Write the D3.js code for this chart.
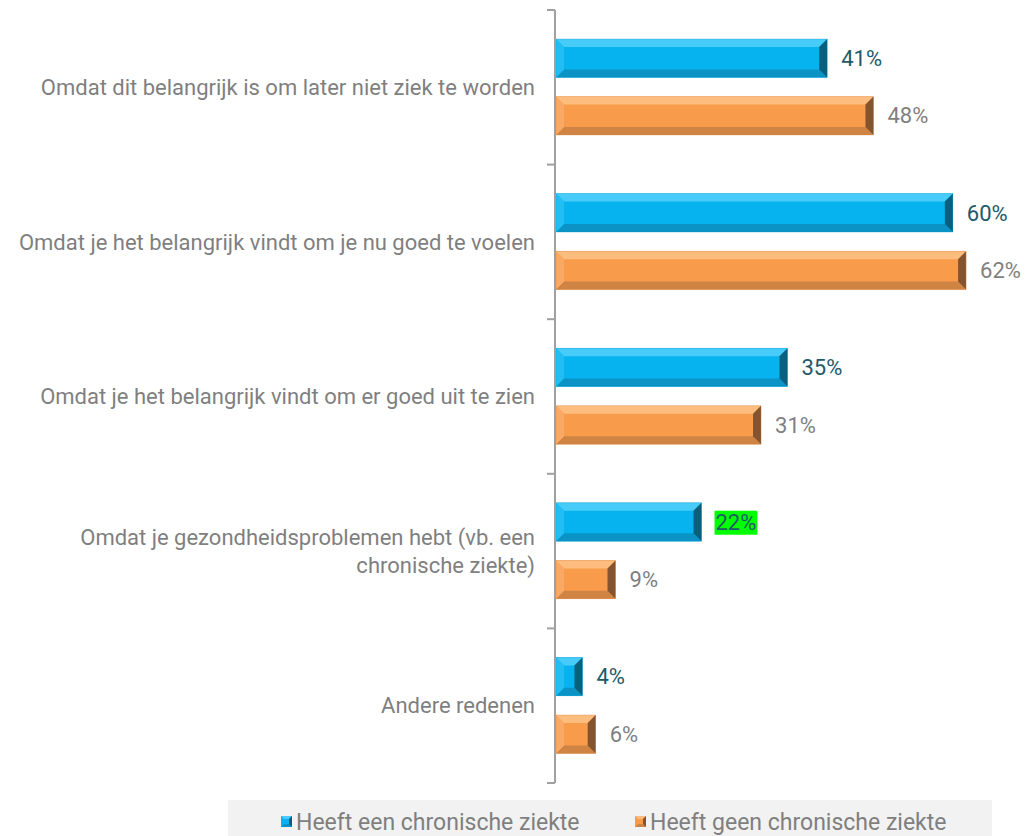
<!DOCTYPE html>
<html>
<head>
<meta charset="utf-8">
<script src="https://cdn.jsdelivr.net/npm/d3@7"></script>
<style>
  html, body { margin: 0; padding: 0; background: #ffffff; }
  svg { display: block; font-family: Roboto, "Open Sans", sans-serif; }
</style>
</head>
<body>
<svg id="chart" width="1025" height="836"></svg>
<script>
// Reasons, one entry per category
const categories = [
  "Omdat dit belangrijk is om later niet ziek te worden",
  "Omdat je het belangrijk vindt om je nu goed te voelen",
  "Omdat je het belangrijk vindt om er goed uit te zien",
  "Omdat je gezondheidsproblemen hebt (vb. een chronische ziekte)",
  "Andere redenen"
];
// Wrapped label lines for each category
const categoryLines = [
  ["Omdat dit belangrijk is om later niet ziek te worden"],
  ["Omdat je het belangrijk vindt om je nu goed te voelen"],
  ["Omdat je het belangrijk vindt om er goed uit te zien"],
  ["Omdat je gezondheidsproblemen hebt (vb. een", "chronische ziekte)"],
  ["Andere redenen"]
];
const seriesNames = ["Heeft een chronische ziekte", "Heeft geen chronische ziekte"];
const chronisch = [0.41, 0.60, 0.35, 0.22, 0.04];
const geenChronisch = [0.48, 0.62, 0.31, 0.09, 0.06];
const highlighted = [{ series: 0, index: 3 }];

const svg = d3.select("#chart");

const x = d3.scaleLinear().domain([0, 0.7]).range([556, 1019]);
const y = d3.scaleBand().domain(categories).range([10, 783]).padding(0);
const ySub = d3.scaleBand().domain(seriesNames).range([29, 125]).paddingInner(0.333).paddingOuter(0);

const palette = [
  { base: "#06b3ef", top: "#47cbf8", left: "#22bdf3", bottom: "#0a93c4", right: "#0b5f7e", label: "#215968" },
  { base: "#f89b4b", top: "#fcbd7e", left: "#faa964", bottom: "#cf8444", right: "#845430", label: "#7f7f7f" }
];

const rows = [];
categories.forEach((c, i) => {
  [chronisch, geenChronisch].forEach((vals, s) => {
    rows.push({ cat: c, i, s, v: vals[i] });
  });
});

// Bevelled bars
const bars = svg.append("g").selectAll("g.bar").data(rows).join("g").attr("class", "bar");
bars.each(function (d) {
  const g = d3.select(this);
  const col = palette[d.s];
  const x0 = x(0), x1 = x(d.v);
  const y0 = y(d.cat) + ySub(seriesNames[d.s]);
  const h = ySub.bandwidth();
  const y1 = y0 + h;
  const b = Math.min(8, (x1 - x0) / 2, h / 2);
  g.append("rect").attr("x", x0).attr("y", y0).attr("width", x1 - x0).attr("height", h).attr("fill", col.base);
  const poly = (pts, fill) => g.append("polygon").attr("points", pts.map(p => p.join(",")).join(" ")).attr("fill", fill);
  poly([[x0, y0], [x1, y0], [x1 - b, y0 + b], [x0 + b, y0 + b]], col.top);
  poly([[x0, y1], [x1, y1], [x1 - b, y1 - b], [x0 + b, y1 - b]], col.bottom);
  poly([[x0, y0], [x0 + b, y0 + b], [x0 + b, y1 - b], [x0, y1]], col.left);
  poly([[x1, y0], [x1 - b, y0 + b], [x1 - b, y1 - b], [x1, y1]], col.right);
  g.append("rect").attr("x", x0).attr("y", y0).attr("width", x1 - x0).attr("height", h)
    .attr("fill", "none").attr("stroke", d3.color(col.base).darker(0.4)).attr("stroke-width", 0.6).attr("opacity", 0.5);
});

// Value labels
const fmt = d3.format(".0%");
rows.forEach(d => {
  const tx = x(d.v) + 14;
  const ty = y(d.cat) + ySub(seriesNames[d.s]) + ySub.bandwidth() / 2;
  const isHi = highlighted.some(h => h.series === d.s && h.index === d.i);
  const t = svg.append("text")
    .attr("x", tx).attr("y", ty).attr("dy", "0.35em")
    .attr("font-size", 22)
    .attr("fill", palette[d.s].label)
    .text(fmt(d.v));
  if (isHi) {
    const bb = t.node().getBBox();
    svg.insert("rect", () => t.node())
      .attr("x", bb.x - 1).attr("y", bb.y + 1).attr("width", bb.width + 2).attr("height", bb.height - 1)
      .attr("fill", "#00ff00");
  }
});

// Vertical category axis with boundary ticks
const axis = svg.append("g").attr("stroke", "#a0a0a0").attr("stroke-width", 2);
const yr = y.range();
axis.append("line").attr("x1", 555).attr("x2", 555).attr("y1", yr[0]).attr("y2", yr[1]);
const bounds = categories.map(c => y(c)).concat([yr[1]]);
axis.selectAll("line.tick").data(bounds).join("line").attr("class", "tick")
  .attr("x1", 547).attr("x2", 555).attr("y1", d => d).attr("y2", d => d);

// Category labels
const lineH = 28;
categoryLines.forEach((lines, i) => {
  const cy = y(categories[i]) + y.bandwidth() / 2;
  const t = svg.append("text")
    .attr("text-anchor", "end").attr("font-size", 22).attr("fill", "#7f7f7f");
  lines.forEach((ln, k) => {
    t.append("tspan").attr("x", 535)
      .attr("y", cy + (k - (lines.length - 1) / 2) * lineH)
      .attr("dy", "0.35em").text(ln);
  });
});

// Legend
const legend = svg.append("g");
legend.append("rect").attr("x", 228).attr("y", 800).attr("width", 764).attr("height", 40).attr("fill", "#f2f2f2");
const legX = [281, 635];
seriesNames.forEach((name, s) => {
  const col = palette[s];
  const lx = legX[s], ly = 816, sz = 11;
  const g = legend.append("g");
  g.append("rect").attr("x", lx).attr("y", ly).attr("width", sz).attr("height", sz).attr("fill", col.base);
  const b = 3;
  const poly = (pts, fill) => g.append("polygon").attr("points", pts.map(p => p.join(",")).join(" ")).attr("fill", fill);
  poly([[lx, ly], [lx + sz, ly], [lx + sz - b, ly + b], [lx + b, ly + b]], col.top);
  poly([[lx, ly + sz], [lx + sz, ly + sz], [lx + sz - b, ly + sz - b], [lx + b, ly + sz - b]], col.bottom);
  poly([[lx + sz, ly], [lx + sz - b, ly + b], [lx + sz - b, ly + sz - b], [lx + sz, ly + sz]], col.right);
  legend.append("text").attr("x", lx + 15).attr("y", ly + sz / 2).attr("dy", "0.35em")
    .attr("font-size", 23).attr("fill", "#7f7f7f").text(name);
});
</script>
</body>
</html>
